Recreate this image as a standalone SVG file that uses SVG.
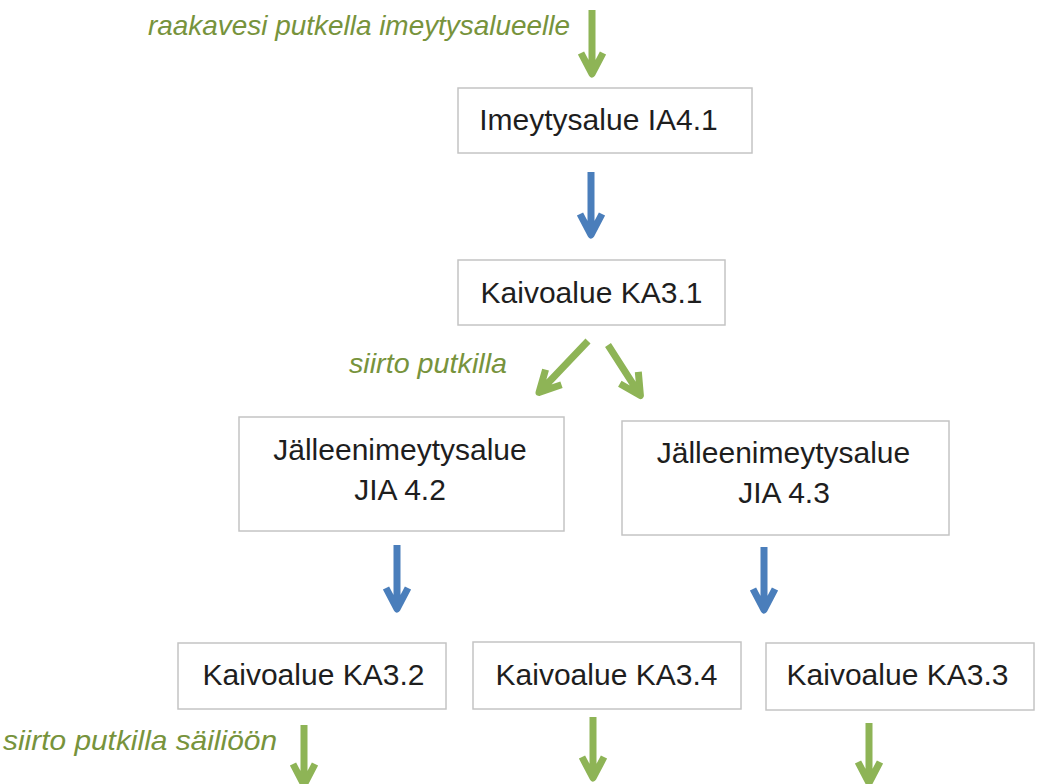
<svg xmlns="http://www.w3.org/2000/svg" width="1037" height="784" viewBox="0 0 1037 784">
<style>
  .box { fill: #ffffff; stroke: #c4c4c4; stroke-width: 1.5; }
  .lbl { font-family: "Liberation Sans", Arial, sans-serif; font-size: 30px; fill: #1e1e1e; text-anchor: middle; }
  .note { font-family: "Liberation Sans", Arial, sans-serif; font-size: 28.5px; font-style: italic; fill: #77933c; }
  .arr { fill: none; stroke-width: 7; stroke-linejoin: round; stroke-linecap: butt; }
  .green { stroke: #8eb456; }
  .blue { stroke: #4a7ebb; }
</style>
<rect x="0" y="0" width="1037" height="784" fill="#ffffff"/>

<g id="connectors">
  <path class="arr green" d="M592,10 V72 M581,53 L592,74 L603,53"/>
  <path class="arr blue" d="M591,172 V233 M580,214 L591,235 L602,214"/>
  <path class="arr green" transform="rotate(43.6 588 341)" d="M588,341 V410 M577,391 L588,412 L599,391"/>
  <path class="arr green" transform="rotate(-32.7 608 345)" d="M608,345 V403 M597,384 L608,405 L619,384"/>
  <path class="arr blue" d="M397,545 V607 M386,588 L397,609 L408,588"/>
  <path class="arr blue" d="M764,547 V608 M753,589 L764,610 L775,589"/>
  <path class="arr green" d="M304,725 V783 M293,764 L304,785 L315,764"/>
  <path class="arr green" d="M593,717 V776 M582,757 L593,778 L604,757"/>
  <path class="arr green" d="M869,723 V781 M858,762 L869,783 L880,762"/>
</g>

<g id="notes">
  <text class="note" x="148" y="35" textLength="422" lengthAdjust="spacingAndGlyphs">raakavesi putkella imeytysalueelle</text>
  <text class="note" x="349" y="373" textLength="158" lengthAdjust="spacingAndGlyphs">siirto putkilla</text>
  <text class="note" x="3" y="750" textLength="274" lengthAdjust="spacingAndGlyphs">siirto putkilla säiliöön</text>
</g>

<g id="n-ia41">
  <rect class="box" x="458" y="88" width="294" height="65"/>
  <text class="lbl" x="598.5" y="130">Imeytysalue IA4.1</text>
</g>
<g id="n-ka31">
  <rect class="box" x="458" y="260" width="267" height="65"/>
  <text class="lbl" x="591.5" y="303">Kaivoalue KA3.1</text>
</g>
<g id="n-jia42">
  <rect class="box" x="239" y="417" width="325" height="114"/>
  <text class="lbl" x="400" y="460">Jälleenimeytysalue</text>
  <text class="lbl" x="400" y="500">JIA 4.2</text>
</g>
<g id="n-jia43">
  <rect class="box" x="622" y="421" width="327" height="114"/>
  <text class="lbl" x="783.5" y="463">Jälleenimeytysalue</text>
  <text class="lbl" x="784" y="503">JIA 4.3</text>
</g>
<g id="n-ka32">
  <rect class="box" x="178" y="643" width="268" height="66"/>
  <text class="lbl" x="313.5" y="685">Kaivoalue KA3.2</text>
</g>
<g id="n-ka34">
  <rect class="box" x="473" y="642" width="268" height="67"/>
  <text class="lbl" x="606.5" y="685">Kaivoalue KA3.4</text>
</g>
<g id="n-ka33">
  <rect class="box" x="766" y="643" width="268" height="67"/>
  <text class="lbl" x="897.5" y="685">Kaivoalue KA3.3</text>
</g>
</svg>
